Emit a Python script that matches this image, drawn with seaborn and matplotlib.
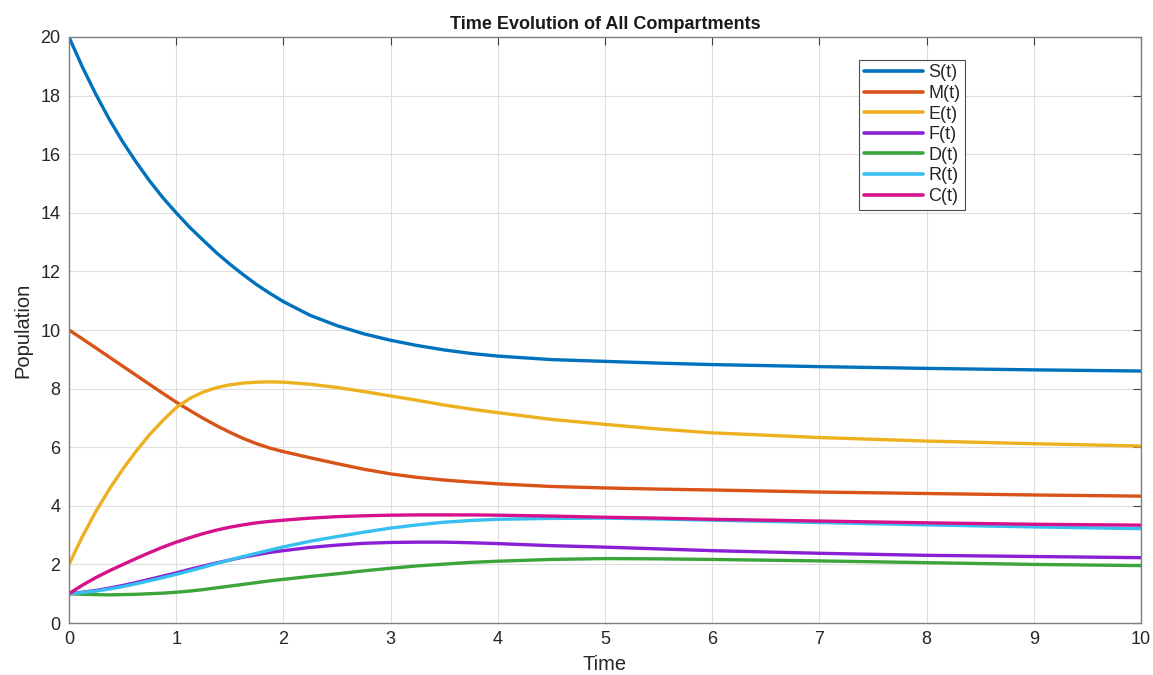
import pandas as pd
import matplotlib
matplotlib.use("Agg")
import matplotlib.pyplot as plt
import seaborn as sns

# values
time = [0, 0.125, 0.25, 0.375, 0.5, 0.625, 0.75, 0.875, 1, 1.125, 1.25, 1.375, 1.5, 1.625, 1.75, 1.875,
        2, 2.25, 2.5, 2.75, 3, 3.25, 3.5, 3.75, 4, 4.5, 5, 5.5, 6, 7, 8, 9, 10]
S = [20, 18.98, 18.05, 17.2, 16.43, 15.74, 15.1, 14.52, 14.0, 13.51, 13.07, 12.64, 12.25, 11.89, 11.55, 11.25,
     10.97, 10.5, 10.15, 9.87, 9.65, 9.47, 9.32, 9.2, 9.11, 8.99, 8.93, 8.87, 8.82, 8.75, 8.69, 8.64, 8.6]
M = [10, 9.7, 9.39, 9.08, 8.77, 8.46, 8.15, 7.84, 7.54, 7.26, 6.99, 6.74, 6.51, 6.3, 6.12, 5.97,
     5.85, 5.64, 5.44, 5.25, 5.09, 4.97, 4.88, 4.81, 4.75, 4.66, 4.61, 4.57, 4.54, 4.47, 4.42, 4.37, 4.33]
E = [2, 2.95, 3.8, 4.56, 5.24, 5.86, 6.42, 6.91, 7.35, 7.66, 7.88, 8.03, 8.13, 8.19, 8.22, 8.23,
     8.22, 8.15, 8.04, 7.9, 7.75, 7.6, 7.44, 7.3, 7.18, 6.95, 6.78, 6.62, 6.49, 6.33, 6.21, 6.12, 6.04]
F = [1, 1.05, 1.11, 1.19, 1.28, 1.38, 1.49, 1.6, 1.71, 1.83, 1.94, 2.05, 2.15, 2.25, 2.33, 2.41,
     2.47, 2.58, 2.66, 2.72, 2.75, 2.76, 2.76, 2.74, 2.71, 2.64, 2.59, 2.53, 2.47, 2.38, 2.31, 2.27, 2.23]
D = [1, 0.98, 0.97, 0.96, 0.97, 0.98, 1.0, 1.02, 1.05, 1.09, 1.14, 1.2, 1.26, 1.32, 1.38, 1.44,
     1.49, 1.59, 1.68, 1.78, 1.87, 1.95, 2.01, 2.07, 2.11, 2.17, 2.2, 2.19, 2.17, 2.12, 2.06, 2.0, 1.96]
R = [1, 1.04, 1.09, 1.16, 1.24, 1.34, 1.44, 1.55, 1.66, 1.78, 1.9, 2.03, 2.15, 2.27, 2.38, 2.49,
     2.6, 2.79, 2.95, 3.1, 3.24, 3.35, 3.44, 3.5, 3.54, 3.57, 3.58, 3.55, 3.51, 3.43, 3.35, 3.28, 3.22]
C = [1, 1.29, 1.55, 1.78, 1.99, 2.2, 2.4, 2.59, 2.76, 2.91, 3.05, 3.17, 3.27, 3.35, 3.42, 3.47,
     3.51, 3.58, 3.63, 3.66, 3.68, 3.69, 3.69, 3.69, 3.68, 3.65, 3.61, 3.58, 3.54, 3.48, 3.42, 3.37, 3.34]

labels = ["S(t)", "M(t)", "E(t)", "F(t)", "D(t)", "R(t)", "C(t)"]
series = [S, M, E, F, D, R, C]
colors = ["#0072BD", "#D95319", "#EDB120", "#8A1FD6", "#3BA53B", "#36BFF0", "#D6118C"]

df = pd.concat(
    [pd.DataFrame({"Time": time, "Population": vals, "Compartment": lab})
     for lab, vals in zip(labels, series)],
    ignore_index=True,
)

sns.set_style("whitegrid")
plt.rcParams["font.family"] = ["Liberation Sans", "DejaVu Sans"]

fig = plt.figure(figsize=(11.53, 6.75), dpi=100)
ax = fig.add_axes([0.0598, 0.077, 0.9298, 0.8682])

sns.lineplot(data=df, x="Time", y="Population", hue="Compartment",
             palette=colors, linewidth=2.4, ax=ax)

ax.set_xlim(0, 10)
ax.set_ylim(0, 20)
ax.set_xticks(range(0, 11))
ax.set_yticks(range(0, 21, 2))
ax.grid(True, color="#dedede", linewidth=0.8)
for sp in ax.spines.values():
    sp.set_color("#7f7f7f")
    sp.set_linewidth(1.0)
ax.tick_params(direction="in", length=6, width=0.8, color="#404040",
               top=True, right=True, labelsize=13, labelcolor="#262626", pad=6)

ax.set_xlabel("Time", fontsize=14.5, color="#262626", labelpad=5)
ax.set_ylabel("Population", fontsize=14.5, color="#262626", labelpad=6)
ax.set_title("Time Evolution of All Compartments", fontsize=13, fontweight="bold",
             color="#1a1a1a", pad=6)

leg = ax.legend(loc="upper right", bbox_to_anchor=(0.836, 0.961), fontsize=13,
                frameon=True, fancybox=False, borderpad=0.25, labelspacing=0.2,
                handlelength=3.3, handletextpad=0.3, borderaxespad=0)
leg.get_frame().set_edgecolor("#4d4d4d")
leg.get_frame().set_linewidth(0.8)
leg.get_frame().set_alpha(1)
for h in leg.get_lines():
    h.set_linewidth(2.6)

fig.savefig("out.png", dpi=100)
